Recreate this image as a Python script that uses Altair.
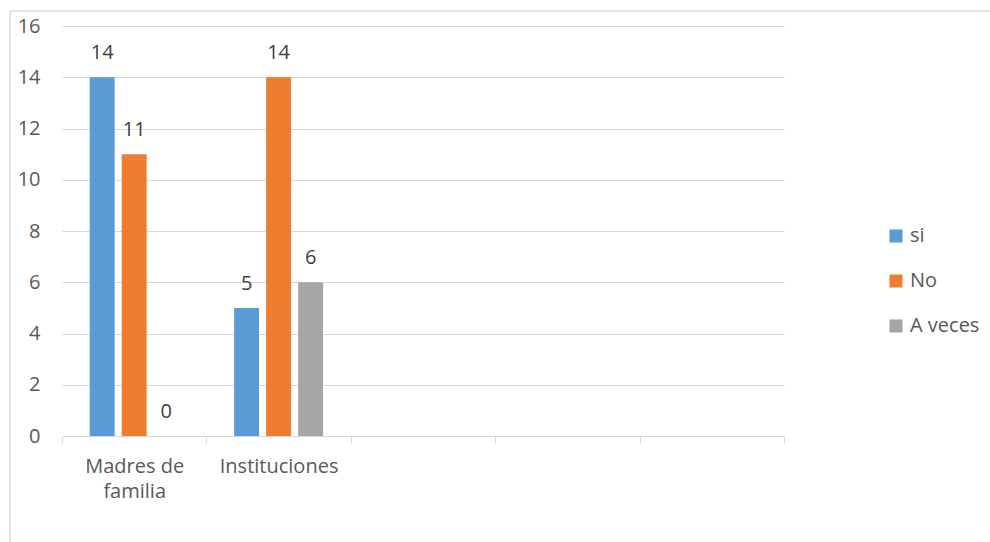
import altair as alt
import pandas as pd

categories = ["Madres de familia", "Instituciones", " ", "  ", "   "]
series = ["si", "No", "A veces"]
si_vals = [14, 5]
no_vals = [11, 14]
aveces_vals = [0, 6]
colors = ["#5B9BD5", "#ED7D31", "#A5A5A5"]
y_ticks = [0, 2, 4, 6, 8, 10, 12, 14, 16]

rows = []
for i, cat in enumerate(categories[:2]):
    for s, vals in zip(series, [si_vals, no_vals, aveces_vals]):
        rows.append({"cat": cat, "serie": s, "valor": vals[i]})
df = pd.DataFrame(rows)

FONT = "Open Sans"
TXT = "#595959"
FS = 20

x_enc = alt.X("cat:N", sort=categories,
              scale=alt.Scale(domain=categories, paddingInner=0, paddingOuter=0),
              axis=alt.Axis(title=None, labelAngle=0, tickBand="extent",
                            domainColor="#D9D9D9", tickColor="#D9D9D9", tickSize=7,
                            labelPadding=13, labelFontSize=FS, labelColor=TXT,
                            labelFont=FONT, labelLineHeight=25, labelBaseline="top",
                            labelExpr="datum.label == 'Madres de familia' ? ['Madres de', 'familia'] : datum.label"))
xo_enc = alt.XOffset("serie:N", sort=series,
                     scale=alt.Scale(domain=series, paddingInner=0.22, paddingOuter=0.866))
y_enc = alt.Y("valor:Q", scale=alt.Scale(domain=[0, 16], nice=False),
              axis=alt.Axis(title=None, values=y_ticks, domain=False, ticks=False,
                            grid=True, gridColor="#D9D9D9", labelPadding=22,
                            labelFontSize=FS, labelColor=TXT, labelFont=FONT))

base = alt.Chart(df)
bars = base.mark_bar().encode(
    x=x_enc, xOffset=xo_enc, y=y_enc,
    color=alt.Color("serie:N", sort=series,
                    scale=alt.Scale(domain=series, range=colors),
                    legend=alt.Legend(title=None, orient="none", legendX=824, legendY=200,
                                      symbolType="square", symbolSize=170,
                                      symbolStrokeWidth=0, rowPadding=25,
                                      labelFontSize=FS, labelColor=TXT, labelFont=FONT,
                                      labelOffset=4)),
)
labels = base.mark_text(dy=-24, baseline="middle", fontSize=FS, color="#404040", font=FONT).encode(
    x=x_enc, xOffset=xo_enc, y=y_enc, text="valor:Q")

frame_data = alt.Data(values=[{"k": 1}])
frame_top = alt.Chart(frame_data).mark_rule(color="#D9D9D9", strokeWidth=1.5).encode(
    x=alt.value(-52), x2=alt.value(928), y=alt.value(-15))
frame_left = alt.Chart(frame_data).mark_rule(color="#D9D9D9", strokeWidth=1.5).encode(
    x=alt.value(-52), y=alt.value(-15), y2=alt.value(516))

chart = alt.layer(bars, labels, frame_top, frame_left).properties(
    width=722, height=410,
    autosize=alt.AutoSizeParams(type="none"),
    padding={"left": 62, "top": 26, "right": 206, "bottom": 106},
).configure(background="white").configure_view(stroke=None)

chart.save("out.html", embed_options={"renderer": "svg", "actions": False})
